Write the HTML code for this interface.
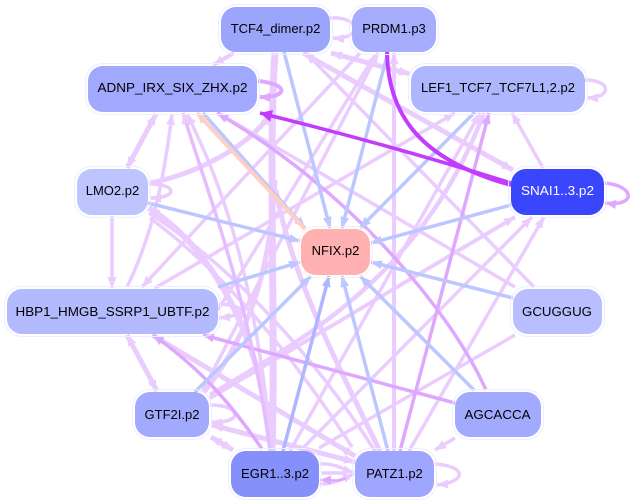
<!DOCTYPE html>
<html><head><meta charset="utf-8"><style>
html,body{margin:0;padding:0;background:#fff}
svg{display:block}
text{font-family:"Liberation Sans",sans-serif;font-size:13px;text-anchor:middle;fill:#000}
path{fill:none}
.a{stroke:#eaccff}.b{stroke:#dfa8ff}.c{stroke:#c23cff}.d{stroke:#bcc6ff}.e{stroke:#ffcfc4}.f{stroke:#aeb6ff}
.o{fill:none;stroke:#eeeeff;stroke-width:1}
</style></head><body>
<svg width="634" height="504" viewBox="0 0 634 504" xmlns="http://www.w3.org/2000/svg">
<defs>
<marker id="ma" markerUnits="userSpaceOnUse" markerWidth="12" markerHeight="10" refX="11" refY="5" orient="auto-start-reverse"><polygon points="0,0.5 11,5 0,9.500" fill="#eaccff"/></marker>
<marker id="mb" markerUnits="userSpaceOnUse" markerWidth="12" markerHeight="10" refX="11" refY="5" orient="auto-start-reverse"><polygon points="0,0.5 11,5 0,9.500" fill="#dfa8ff"/></marker>
<marker id="mc" markerUnits="userSpaceOnUse" markerWidth="13" markerHeight="13" refX="12" refY="6.5" orient="auto-start-reverse"><polygon points="0,0.5 12,6.5 0,12.5" fill="#c23cff"/></marker>
<marker id="md" markerUnits="userSpaceOnUse" markerWidth="12" markerHeight="10" refX="11" refY="5" orient="auto-start-reverse"><polygon points="0,0.5 11,5 0,9.500" fill="#bcc6ff"/></marker>
<marker id="me" markerUnits="userSpaceOnUse" markerWidth="12" markerHeight="10" refX="11" refY="5" orient="auto-start-reverse"><polygon points="0,0.5 11,5 0,9.500" fill="#ffcfc4"/></marker>
<marker id="mf" markerUnits="userSpaceOnUse" markerWidth="12" markerHeight="10" refX="11" refY="5" orient="auto-start-reverse"><polygon points="0,0.5 11,5 0,9.500" fill="#aeb6ff"/></marker>
</defs>

<!-- light edges -->
<g class="a" stroke-width="3.5">
<path d="M303,53 L513,170" stroke-width="5" marker-start="url(#ma)" marker-end="url(#ma)"/>
<path d="M331,53 L410,74" stroke-width="5" marker-start="url(#ma)" marker-end="url(#ma)"/>
<path d="M234,53 L213,65" stroke-width="4" marker-end="url(#ma)"/>
<path d="M156,114 L127,168" stroke-width="5" marker-start="url(#ma)" marker-end="url(#ma)"/>
<path d="M112,216 L112,288" marker-end="url(#ma)"/>
<path d="M127,335 L157,391" stroke-width="5" marker-start="url(#ma)" marker-end="url(#ma)"/>
<path d="M211,437 L233,450" stroke-width="5" marker-start="url(#ma)" marker-end="url(#ma)"/>
<path d="M455,438 L435,450" marker-end="url(#ma)"/>
<path d="M543,168 L512,113" marker-end="url(#ma)"/>
<path d="M534,287 L306,53" marker-end="url(#ma)"/>
<path d="M515,287 L218,113" marker-end="url(#ma)"/>
<path d="M515,335 L319,448"/>
<path d="M155,288 L455,113" marker-end="url(#ma)"/>
<path d="M394,451 L394,53" stroke-width="4" marker-end="url(#ma)"/>
<path d="M202,392 L378,53" marker-end="url(#ma)"/>
<path d="M218,310 L375,55" marker-end="url(#ma)"/>
<path d="M272,451 C276,330 268,150 275,53" stroke-width="7" marker-end="url(#ma)"/>
<path d="M150,183 C205,172 255,140 270,114" stroke-width="5" marker-end="url(#ma)"/>
<path d="M272,451 C262,340 215,250 149,208" stroke-width="6" marker-end="url(#ma)"/>
<path d="M352,447 C270,320 200,255 150,218"/>
<path d="M149,213 C230,265 310,350 375,451"/>
<path d="M276,190 C290,270 330,350 380,451" stroke-width="5"/>
<path d="M210,395 C300,340 420,280 484,113" stroke-width="4.5" marker-end="url(#ma)"/>
<path d="M290,451 L480,113" marker-end="url(#ma)"/>
<path d="M210,398 L515,217" stroke-width="4" marker-end="url(#ma)"/>
<path d="M300,451 L532,217" marker-end="url(#ma)"/>
<path d="M409,451 L544,217" marker-end="url(#ma)"/>
<path d="M187,114 C225,190 255,280 272,451" marker-start="url(#ma)"/>
<path d="M127,287 C155,230 165,170 172,114" marker-end="url(#ma)"/>
<path d="M360,53 L142,287" marker-end="url(#ma)"/>
<path d="M204,392 C245,340 270,280 275,180" stroke-width="5"/>
<path d="M212,425 L355,462" stroke-width="5" marker-start="url(#ma)" marker-end="url(#ma)"/>
<path d="M152,335 L355,456" stroke-width="5" marker-start="url(#ma)" marker-end="url(#ma)"/>
<!-- self loops -->
<path d="M585,80 C612,80 612,98 587,98" marker-end="url(#ma)"/>
<path d="M149,184 C178,184 178,198 150,198" marker-end="url(#ma)"/>
<path d="M219,304 C245,305 250,315 219,318" marker-end="url(#ma)"/>
<path d="M210,405 C243,405 243,424 211,422" marker-end="url(#ma)"/>
<path d="M435,464 C467,466 467,482 437,485" marker-end="url(#ma)"/>
<path d="M320,464 C335,463 345,470 354,473" marker-end="url(#ma)"/>
<path d="M320,484 C335,484 345,478 354,474" marker-end="url(#ma)"/>
<path d="M322,473 L346,473"/>
</g>

<!-- medium -->
<g class="b" stroke-width="3.5">
<path d="M486,390 C450,310 350,190 217,113" marker-end="url(#mb)"/>
<path d="M400,451 L489,113" marker-end="url(#mb)"/>
<path d="M455,403 L203,335" marker-end="url(#mb)"/>
<path d="M262,449 C225,395 195,365 153,335" marker-end="url(#mb)"/>
<path d="M258,81 C290,84 288,98 259,97" stroke-width="4" marker-end="url(#mb)"/>
<path d="M605,183 C636,186 636,207 605,203" marker-end="url(#mb)"/>
<path d="M183,113 C210,200 250,300 270,450" style="stroke:#e4bcff" marker-start="url(#ma)"/>
<path d="M346,478 C338,482 332,480 320,480" stroke-width="2.5" marker-end="url(#mb)"/>
</g>

<!-- blue -->
<g class="d" stroke-width="3.5">
<path d="M284,52 L330,228" marker-end="url(#md)"/>
<path d="M388,52 L342,228" marker-end="url(#md)"/>
<path d="M475,112 L360,228" marker-end="url(#md)"/>
<path d="M148,203 L300,241" marker-end="url(#md)"/>
<path d="M203,113 L305,228" marker-end="url(#md)"/>
<path d="M511,205 L371,243" marker-end="url(#md)"/>
<path d="M513,298 L371,262" marker-end="url(#md)"/>
<path d="M218,287 L300,262" marker-end="url(#md)"/>
<path d="M195,392 L311,276" marker-end="url(#md)"/>
<path d="M388,451 L342,276" marker-end="url(#md)"/>
<path d="M474,390 L360,276" marker-end="url(#md)"/>
</g>
<path class="f" d="M283,451 L329,276" stroke-width="3.5" marker-end="url(#mf)"/>
<path class="e" d="M305,229 L197,113" stroke-width="4" marker-end="url(#me)"/>

<!-- strong -->
<g class="c">
<path d="M511,183 Q390,145 260,113" stroke-width="3.5" marker-end="url(#mc)"/>
<path d="M387,52 C388,115 420,160 511,185" stroke-width="4"/>
</g>

<!-- TCF4 loop -->
<path class="a" d="M330,18 C362,16 362,40 333,38" stroke-width="3.5" marker-end="url(#ma)"/>

<!-- nodes -->
<g>
<rect class="o" x="218.500" y="4.500" width="114" height="50" rx="17"/><rect x="221" y="7" width="109" height="45" rx="15" fill="#9aa5fb"/>
<rect class="o" x="349.500" y="4.500" width="89" height="50" rx="17"/><rect x="352" y="7" width="84" height="45" rx="15" fill="#a5adfc"/>
<rect class="o" x="85.500" y="63.500" width="174" height="51" rx="17"/><rect x="88" y="66" width="169" height="46" rx="15" fill="#a0a9fd"/>
<rect class="o" x="408.500" y="63.500" width="179" height="51" rx="17"/><rect x="411" y="66" width="174" height="46" rx="15" fill="#aeb6fd"/>
<rect class="o" x="74.500" y="166.500" width="76" height="51" rx="17"/><rect x="77" y="169" width="71" height="46" rx="15" fill="#bec4fe"/>
<rect class="o" x="508.500" y="166.500" width="98" height="51" rx="17"/><rect x="511" y="169" width="93" height="46" rx="15" fill="#3a46fc"/>
<rect class="o" x="298.500" y="226.500" width="74" height="51" rx="17" style="stroke:#ffeeee"/><rect x="301" y="229" width="69" height="46" rx="15" fill="#ffb0b0"/>
<rect class="o" x="4.500" y="286.500" width="216" height="50" rx="17"/><rect x="7" y="289" width="211" height="45" rx="15" fill="#b3bafd"/>
<rect class="o" x="510.500" y="286.500" width="94" height="50" rx="17"/><rect x="513" y="289" width="89" height="45" rx="15" fill="#b8beff"/>
<rect class="o" x="132.500" y="389.500" width="79" height="50" rx="17"/><rect x="135" y="392" width="74" height="45" rx="15" fill="#a2aafe"/>
<rect class="o" x="452.500" y="389.500" width="91" height="50" rx="17"/><rect x="455" y="392" width="86" height="45" rx="15" fill="#a2aafe"/>
<rect class="o" x="228.500" y="448.500" width="93" height="51" rx="17"/><rect x="231" y="451" width="88" height="46" rx="15" fill="#8590fb"/>
<rect class="o" x="352.500" y="448.500" width="84" height="51" rx="17"/><rect x="355" y="451" width="79" height="46" rx="15" fill="#9ea6fd"/>
</g>

<text x="275.500" y="33">TCF4_dimer.p2</text>
<text x="394" y="33">PRDM1.p3</text>
<text x="172.500" y="92" textLength="150" lengthAdjust="spacingAndGlyphs">ADNP_IRX_SIX_ZHX.p2</text>
<text x="498" y="92">LEF1_TCF7_TCF7L1,2.p2</text>
<text x="112.500" y="195">LMO2.p2</text>
<text x="557.500" y="195" style="fill:#fff" textLength="73" lengthAdjust="spacingAndGlyphs">SNAI1..3.p2</text>
<text x="335.500" y="255">NFIX.p2</text>
<text x="112.500" y="316" textLength="194" lengthAdjust="spacingAndGlyphs">HBP1_HMGB_SSRP1_UBTF.p2</text>
<text x="557" y="316" textLength="70" lengthAdjust="spacingAndGlyphs">GCUGGUG</text>
<text x="172" y="419">GTF2I.p2</text>
<text x="497.500" y="419" textLength="66" lengthAdjust="spacingAndGlyphs">AGCACCA</text>
<text x="275" y="478">EGR1..3.p2</text>
<text x="394.500" y="478">PATZ1.p2</text>
</svg>
</body></html>
